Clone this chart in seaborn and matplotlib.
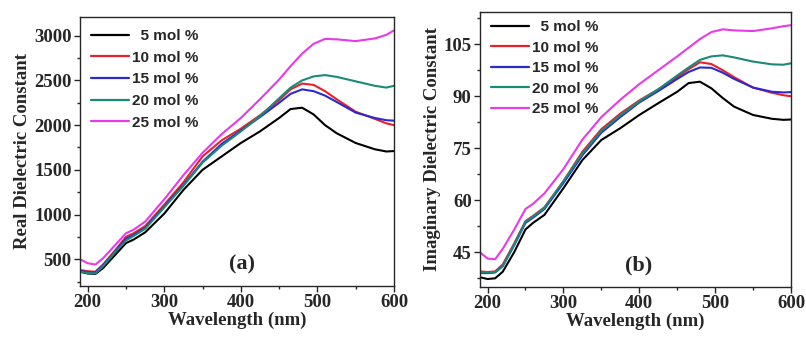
import numpy as np
import pandas as pd
import matplotlib
matplotlib.use("Agg")
import matplotlib.pyplot as plt
import seaborn as sns
from matplotlib.ticker import MultipleLocator

wavelength = [190, 200, 210, 220, 235, 250, 260, 275, 300, 325, 350, 375, 400,
              425, 450, 465, 480, 495, 510, 525, 550, 575, 590, 600]
series_labels = ["  5 mol %", "10 mol %", "15 mol %", "20 mol %", "25 mol %"]

real_5 = [360, 340, 335, 400, 540, 680, 720, 800, 1010, 1275, 1500, 1650, 1800,
          1930, 2080, 2180, 2195, 2120, 2000, 1910, 1800, 1730, 1705, 1710]
real_10 = [380, 365, 360, 440, 590, 750, 790, 870, 1110, 1360, 1650, 1830, 1960,
           2110, 2280, 2400, 2465, 2450, 2380, 2290, 2150, 2070, 2020, 2000]
real_15 = [370, 355, 350, 430, 580, 730, 770, 850, 1090, 1330, 1590, 1790, 1940,
           2090, 2250, 2350, 2400, 2380, 2330, 2260, 2140, 2080, 2055, 2050]
real_20 = [360, 345, 340, 420, 570, 710, 760, 840, 1080, 1320, 1580, 1770, 1930,
           2100, 2300, 2420, 2500, 2545, 2560, 2540, 2490, 2440, 2420, 2440]
real_25 = [500, 455, 440, 510, 650, 790, 830, 920, 1170, 1440, 1690, 1900, 2080,
           2290, 2510, 2660, 2800, 2910, 2965, 2960, 2940, 2970, 3010, 3060]

imag_5 = [37.8, 37.3, 37.5, 39.4, 45, 51.6, 53.5, 55.8, 63.5, 71.6, 77.4, 80.8, 84.6,
          88, 91.3, 93.8, 94.2, 92.3, 89.5, 87, 84.6, 83.5, 83.2, 83.3]
imag_10 = [39.5, 39.3, 39.5, 41.5, 47.5, 54, 55.5, 58, 65.5, 74, 80.5, 85, 88.8,
           92, 95.5, 97.8, 99.8, 99.3, 97.5, 95.5, 92.5, 91, 90.3, 90]
imag_15 = [39, 39, 39.2, 41, 47, 53.5, 55, 57.5, 65, 73, 79.5, 84, 88.2,
           91.5, 95, 97, 98.3, 98.2, 96.8, 95, 92.5, 91.3, 91.1, 91.2]
imag_20 = [39.2, 39.2, 39.3, 41, 47.2, 53.8, 55.3, 57.8, 65.5, 73.5, 80, 84.5, 88.5,
           92, 96, 98.3, 100.5, 101.5, 101.8, 101.2, 100, 99.2, 99.1, 99.5]
imag_25 = [45, 43.2, 43, 46, 51.5, 57.5, 59, 62, 69, 77.5, 84, 89, 93.5,
           97.5, 101.5, 104, 106.5, 108.5, 109.3, 109, 108.8, 109.6, 110.2, 110.5]

colors = ["#000000", "#e8202a", "#2a2ad0", "#1a8a78", "#e83ae8"]


def long_df(series):
    rows = []
    for lab, vals in zip(series_labels, series):
        for w, v in zip(wavelength, vals):
            rows.append({"Wavelength": w, "value": v, "Sample": lab})
    return pd.DataFrame(rows)


df_real = long_df([real_5, real_10, real_15, real_20, real_25])
df_imag = long_df([imag_5, imag_10, imag_15, imag_20, imag_25])

sns.set_theme(style="ticks")
plt.rcParams["font.family"] = ["Liberation Serif", "DejaVu Serif"]

fig = plt.figure(figsize=(8.06, 3.37), dpi=100)
ax1 = fig.add_axes([0.0993, 0.1513, 0.3895, 0.7983])
ax2 = fig.add_axes([0.5955, 0.1484, 0.3859, 0.8160])

palette = dict(zip(series_labels, colors))

for ax, df, ylab, ylim, major, minor, tag, tagpos, legy, lsp in [
    (ax1, df_real, "Real Dielectric Constant", (200, 3210), 500, 250, "(a)", (402, 436), 0.995, 0.5),
    (ax2, df_imag, "Imaginary Dielectric Constant", (35, 114.3), 15, 7.5, "(b)", (399, 41.3), 1.01, 0.43),
]:
    sns.lineplot(data=df, x="Wavelength", y="value", hue="Sample", palette=palette,
                 ax=ax, linewidth=1.5, sort=False)
    ax.set_xlim(190, 600)
    ax.set_ylim(*ylim)
    ax.xaxis.set_major_locator(MultipleLocator(100))
    ax.xaxis.set_minor_locator(MultipleLocator(50))
    ax.yaxis.set_major_locator(MultipleLocator(major))
    ax.yaxis.set_minor_locator(MultipleLocator(minor))
    ax.tick_params(which="major", direction="out", length=4, width=1.0,
                   labelsize=13.5, pad=2)
    ax.tick_params(which="minor", direction="out", length=2.5, width=1.0)
    for lbl in ax.get_xticklabels() + ax.get_yticklabels():
        lbl.set_fontweight("bold")
    for s in ax.spines.values():
        s.set_linewidth(1.0)
        s.set_visible(True)
    ax.set_xlabel("Wavelength (nm)", fontsize=13.5, fontweight="bold", labelpad=0)
    ax.set_ylabel(ylab, fontsize=13.5, fontweight="bold", labelpad=2)
    ax.text(tagpos[0], tagpos[1], tag, fontsize=16, fontweight="bold",
            ha="center", va="center")
    leg = ax.legend(loc="upper left", bbox_to_anchor=(0.0, legy), frameon=False,
                    handlelength=2.5, handletextpad=0.2, labelspacing=lsp,
                    borderaxespad=0.3,
                    prop={"family": "Liberation Sans", "weight": "bold", "size": 11})
    for line in leg.get_lines():
        line.set_linewidth(1.6)

fig.savefig("out.png", dpi=100)
